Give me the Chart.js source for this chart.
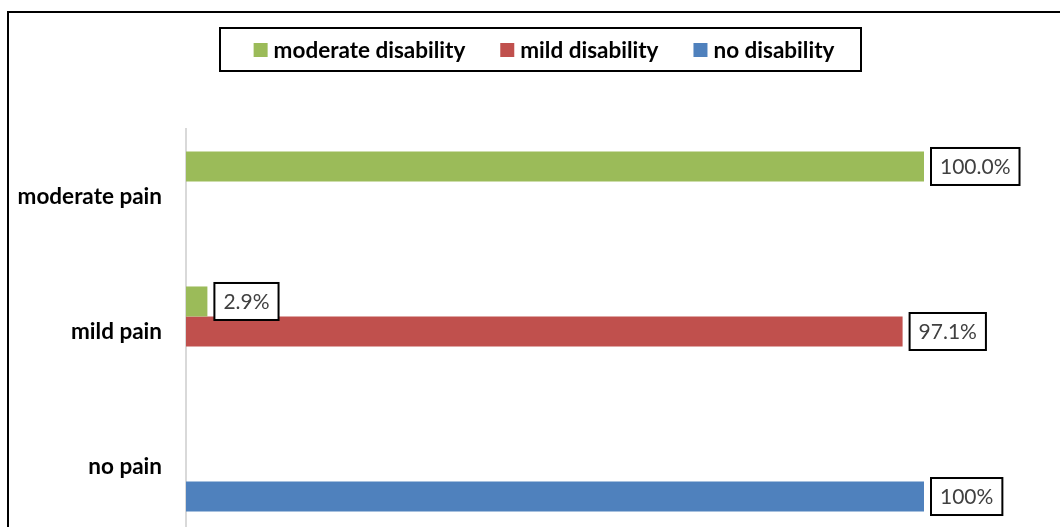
<!DOCTYPE html>
<html>
<head>
<meta charset="utf-8">
<script src="https://cdn.jsdelivr.net/npm/chart.js@4.4.0/dist/chart.umd.min.js"></script>
<style>
  html, body { margin: 0; padding: 0; background: #fff; overflow: hidden; }
</style>
</head>
<body>
<canvas id="myChart" width="1060" height="534"></canvas>
<script>
const categories = ["moderate pain", "mild pain", "no pain"];
const seriesNames = ["moderate disability", "mild disability", "no disability"];
const moderateDisability = [100, 2.9, 0];
const mildDisability = [0, 97.1, 0];
const noDisability = [0, 0, 100];
const moderateLabels = ["100.0%", "2.9%", null];
const mildLabels = [null, "97.1%", null];
const noLabels = [null, null, "100%"];
const colors = ["#9bbb59", "#c0504d", "#4f81bd"];

// outer frame
const framePlugin = {
  id: "frame",
  beforeDraw(chart) {
    const ctx = chart.ctx;
    ctx.save();
    ctx.strokeStyle = "#000";
    ctx.lineWidth = 2;
    ctx.strokeRect(8, 12, 1200, 700);
    ctx.restore();
  },
};

// legend drawn in a boxed row
const boxLegend = {
  id: "boxLegend",
  afterDraw(chart) {
    const ctx = chart.ctx;
    const sets = chart.data.datasets;
    ctx.save();
    ctx.font = "bold 22.5px Lato";
    ctx.textBaseline = "middle";
    const widths = sets.map((d) => ctx.measureText(d.label).width);
    const sq = 14, gapIn = 6, gapOut = 35, pad = 30;
    let total = 0;
    widths.forEach((w, i) => { total += sq + gapIn + w + (i ? gapOut : 0); });
    const cx = 540, cy = 50;
    const boxW = total + pad * 2;
    ctx.strokeStyle = "#000";
    ctx.lineWidth = 2;
    ctx.strokeRect(Math.round(cx - boxW / 2), 28, Math.round(boxW), 43);
    let x = cx - total / 2 + 4;
    sets.forEach((d, i) => {
      ctx.fillStyle = d.backgroundColor;
      ctx.fillRect(x, cy - 7, sq, sq);
      x += sq + gapIn;
      ctx.fillStyle = "#000";
      ctx.fillText(d.label, x, cy + 1);
      x += widths[i] + gapOut;
    });
    ctx.restore();
  },
};

// boxed value labels at bar ends
const valueBoxes = {
  id: "valueBoxes",
  afterDatasetsDraw(chart) {
    const ctx = chart.ctx;
    ctx.save();
    ctx.font = "21px Lato";
    ctx.textBaseline = "middle";
    chart.data.datasets.forEach((d, di) => {
      const meta = chart.getDatasetMeta(di);
      meta.data.forEach((bar, i) => {
        const txt = d.valueLabels[i];
        if (!txt) return;
        const w = ctx.measureText(txt).width + 18;
        const h = 37;
        const left = bar.x + 7;
        const top = bar.y - h / 2;
        ctx.fillStyle = "#fff";
        ctx.fillRect(left, top, w, h);
        ctx.strokeStyle = "#000";
        ctx.lineWidth = 2;
        ctx.strokeRect(left, top, w, h);
        ctx.fillStyle = "#404040";
        ctx.fillText(txt, left + 9, bar.y + 1);
      });
    });
    ctx.restore();
  },
};

function generateChart() {
  const info = {
    labels: categories,
    datasets: [
      { label: seriesNames[0], data: moderateDisability, valueLabels: moderateLabels, backgroundColor: colors[0] },
      { label: seriesNames[1], data: mildDisability, valueLabels: mildLabels, backgroundColor: colors[1] },
      { label: seriesNames[2], data: noDisability, valueLabels: noLabels, backgroundColor: colors[2] },
    ],
  };
  const options = {
    responsive: false,
    animation: false,
    indexAxis: "y",
    categoryPercentage: 0.667,
    barPercentage: 1,
    layout: { padding: { top: 129, right: 136, bottom: 0, left: 0 } },
    scales: {
      x: { display: false, min: 0, max: 100 },
      y: {
        grid: { display: false, drawTicks: false },
        border: { display: true, color: "#d9d9d9", width: 2 },
        ticks: {
          padding: 24,
          color: "#000",
          font: { family: "Lato", size: 22.5, weight: "bold" },
        },
        afterFit: (scale) => {
          scale.width = 186;
          scale.paddingTop = 0;
          scale.paddingBottom = 0;
        },
      },
    },
    plugins: {
      legend: { display: false },
      tooltip: { enabled: false },
    },
  };
  new Chart(document.getElementById("myChart"), {
    type: "bar",
    data: info,
    options,
    plugins: [framePlugin, boxLegend, valueBoxes],
  });
}
generateChart();
</script>
</body>
</html>
